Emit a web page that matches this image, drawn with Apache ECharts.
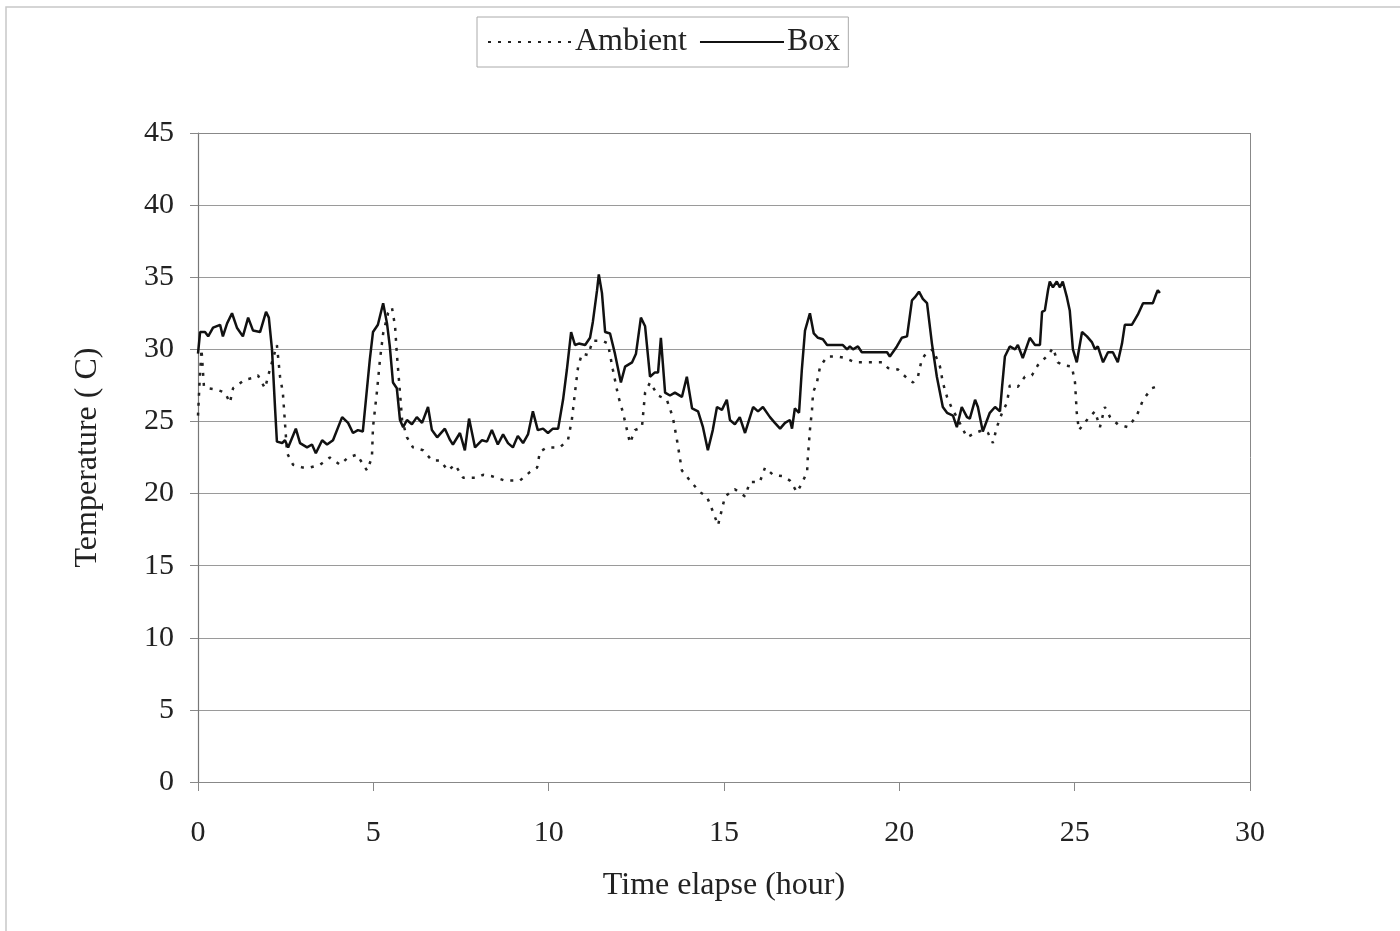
<!DOCTYPE html>
<html>
<head>
<meta charset="utf-8">
<title>Temperature</title>
<script src="https://cdn.jsdelivr.net/npm/echarts@6/dist/echarts.min.js"></script>
<style>
  html, body { margin: 0; padding: 0; background: #fff; }
  #chart { width: 1400px; height: 931px; }
</style>
</head>
<body>
<div id="chart"></div>
<script>
  // hours elapsed / temperature (C)
  var boxHours = [0.00, 0.06, 0.20, 0.29, 0.43, 0.63, 0.71, 0.83, 0.97, 1.11, 1.28, 1.43, 1.57, 1.77, 1.94, 2.02, 2.11, 2.20, 2.25, 2.40,
    2.48, 2.57, 2.79, 2.91, 3.11, 3.25, 3.36, 3.54, 3.68, 3.85, 4.11, 4.28, 4.42, 4.56, 4.70, 4.90, 4.99, 5.13, 5.28, 5.39,
    5.47, 5.56, 5.67, 5.76, 5.85, 5.96, 6.10, 6.24, 6.39, 6.56, 6.67, 6.82, 7.04, 7.19, 7.27, 7.47, 7.61, 7.73, 7.90, 8.10,
    8.24, 8.38, 8.55, 8.70, 8.84, 8.98, 9.12, 9.27, 9.41, 9.55, 9.69, 9.84, 9.98, 10.12, 10.27, 10.41, 10.52, 10.64, 10.75, 10.86,
    11.04, 11.18, 11.26, 11.38, 11.43, 11.52, 11.61, 11.75, 11.89, 12.06, 12.18, 12.38, 12.49, 12.63, 12.75, 12.89, 13.03, 13.12, 13.20, 13.32,
    13.46, 13.60, 13.80, 13.94, 14.09, 14.26, 14.40, 14.54, 14.68, 14.80, 14.94, 15.08, 15.17, 15.31, 15.45, 15.60, 15.83, 15.97, 16.11, 16.31,
    16.45, 16.60, 16.74, 16.88, 16.94, 17.02, 17.14, 17.22, 17.31, 17.45, 17.56, 17.68, 17.82, 17.94, 18.39, 18.51, 18.59, 18.68, 18.82, 18.93,
    19.65, 19.73, 19.93, 20.07, 20.22, 20.36, 20.44, 20.56, 20.67, 20.79, 20.93, 21.07, 21.24, 21.36, 21.53, 21.64, 21.78, 21.93, 22.01, 22.16,
    22.24, 22.38, 22.58, 22.73, 22.87, 22.93, 23.01, 23.15, 23.30, 23.38, 23.52, 23.72, 23.87, 24.01, 24.07, 24.15, 24.24, 24.29, 24.38, 24.49,
    24.58, 24.66, 24.78, 24.86, 24.95, 25.06, 25.21, 25.35, 25.49, 25.58, 25.66, 25.81, 25.95, 26.09, 26.23, 26.35, 26.43, 26.63, 26.80, 26.95,
    27.23, 27.32, 27.37, 27.43];
  var boxTemp = [29.7, 31.2, 31.2, 30.9, 31.5, 31.7, 30.9, 31.8, 32.5, 31.5, 30.9, 32.2, 31.3, 31.2, 32.6, 32.2, 30.0, 25.8, 23.6, 23.5,
    23.7, 23.2, 24.5, 23.5, 23.2, 23.4, 22.8, 23.7, 23.4, 23.7, 25.3, 24.9, 24.2, 24.4, 24.3, 29.3, 31.2, 31.7, 33.2, 31.8,
    30.2, 27.7, 27.3, 25.1, 24.6, 25.1, 24.8, 25.3, 24.9, 26.0, 24.4, 23.9, 24.5, 23.7, 23.4, 24.2, 23.0, 25.2, 23.2, 23.7,
    23.6, 24.4, 23.4, 24.1, 23.5, 23.2, 24.0, 23.5, 24.1, 25.7, 24.4, 24.5, 24.2, 24.5, 24.5, 26.5, 28.6, 31.2, 30.3, 30.4,
    30.3, 30.8, 31.9, 34.1, 35.2, 33.9, 31.2, 31.1, 29.7, 27.7, 28.8, 29.1, 29.7, 32.2, 31.6, 28.1, 28.4, 28.4, 30.8, 27.0,
    26.8, 27.0, 26.7, 28.1, 25.9, 25.7, 24.6, 23.0, 24.4, 26.0, 25.8, 26.5, 25.1, 24.8, 25.3, 24.2, 26.0, 25.7, 26.0, 25.3,
    24.9, 24.5, 24.9, 25.1, 24.5, 25.9, 25.6, 28.6, 31.3, 32.5, 31.1, 30.8, 30.7, 30.3, 30.3, 30.0, 30.2, 30.0, 30.2, 29.8,
    29.8, 29.5, 30.2, 30.8, 30.9, 33.4, 33.6, 34.0, 33.5, 33.2, 30.4, 28.1, 26.0, 25.6, 25.4, 24.6, 26.0, 25.3, 25.2, 26.5,
    26.0, 24.3, 25.6, 26.0, 25.7, 27.4, 29.5, 30.2, 30.0, 30.3, 29.4, 30.8, 30.3, 30.3, 32.6, 32.7, 34.1, 34.7, 34.3, 34.7,
    34.3, 34.7, 33.6, 32.7, 30.0, 29.1, 31.2, 30.9, 30.5, 30.0, 30.2, 29.1, 29.8, 29.8, 29.1, 30.4, 31.7, 31.7, 32.4, 33.2,
    33.2, 33.8, 34.1, 33.9];

  var ambHours = [0.00, 0.05, 0.10, 0.17, 0.29, 0.54, 0.77, 0.91, 1.00, 1.34, 1.54, 1.71, 1.91, 2.05, 2.25, 2.34, 2.42, 2.48, 2.54, 2.71,
    2.99, 3.19, 3.48, 3.76, 4.05, 4.28, 4.53, 4.82, 4.96, 4.99, 5.10, 5.19, 5.28, 5.42, 5.53, 5.62, 5.67, 5.76, 5.82, 5.96,
    6.13, 6.42, 6.67, 6.90, 7.13, 7.33, 7.56, 7.96, 8.13, 8.38, 8.75, 9.18, 9.47, 9.67, 9.75, 9.95, 10.32, 10.55, 10.66, 10.75,
    10.84, 10.95, 11.12, 11.26, 11.52, 11.69, 11.83, 11.98, 12.12, 12.32, 12.46, 12.66, 12.75, 12.89, 13.12, 13.37, 13.54, 13.66, 13.80, 14.03,
    14.31, 14.51, 14.66, 14.83, 14.94, 15.03, 15.31, 15.60, 15.74, 16.02, 16.17, 16.40, 16.68, 16.88, 17.08, 17.22, 17.37, 17.39, 17.45, 17.51,
    17.54, 17.65, 17.74, 17.94, 18.22, 18.45, 18.73, 19.22, 19.53, 19.68, 19.96, 20.22, 20.39, 20.53, 20.64, 20.79, 20.96, 21.16, 21.24, 21.36,
    21.50, 21.64, 21.93, 22.16, 22.38, 22.53, 22.67, 22.78, 22.93, 23.07, 23.15, 23.38, 23.58, 23.78, 23.95, 24.24, 24.38, 24.52, 24.66, 24.92,
    25.01, 25.06, 25.12, 25.29, 25.38, 25.58, 25.72, 25.86, 26.01, 26.23, 26.52, 26.77, 26.95, 27.20, 27.43];
  var ambTemp = [25.4, 28.0, 30.0, 27.4, 27.3, 27.2, 27.0, 26.3, 27.3, 27.9, 28.0, 28.2, 27.3, 28.6, 30.3, 28.1, 27.0, 24.9, 22.8, 22.0,
    21.8, 21.8, 22.0, 22.5, 22.0, 22.5, 22.7, 21.6, 22.5, 24.6, 27.0, 29.3, 31.1, 32.5, 32.9, 31.6, 29.7, 27.0, 25.1, 23.9,
    23.2, 23.0, 22.3, 22.3, 21.6, 22.0, 21.1, 21.1, 21.3, 21.2, 20.9, 20.9, 21.5, 21.8, 22.9, 23.2, 23.2, 23.7, 25.1, 27.0,
    28.8, 29.7, 29.6, 30.6, 30.6, 30.4, 28.6, 26.8, 25.6, 23.5, 24.4, 24.6, 27.0, 27.7, 26.8, 26.5, 25.3, 23.7, 21.6, 20.9,
    20.1, 19.8, 18.9, 17.8, 18.9, 19.8, 20.3, 19.8, 20.8, 20.8, 21.8, 21.3, 21.2, 20.9, 20.1, 20.7, 21.5, 22.5, 24.4, 25.8,
    27.0, 27.7, 28.8, 29.5, 29.5, 29.4, 29.1, 29.1, 29.1, 28.7, 28.6, 28.0, 27.7, 28.1, 29.3, 29.8, 30.0, 28.8, 27.7, 26.7,
    25.9, 25.3, 23.9, 24.2, 24.4, 24.2, 23.5, 24.6, 25.6, 26.3, 27.5, 27.4, 28.1, 28.2, 28.9, 29.6, 30.1, 29.1, 28.9, 28.8,
    27.7, 25.6, 24.4, 24.9, 25.2, 25.7, 24.6, 26.0, 25.3, 24.8, 24.6, 25.4, 26.5, 27.3, 27.5];

  function pairs(xs, ys) {
    var out = [];
    for (var i = 0; i < xs.length; i++) {
      out.push([xs[i], ys[i]]);
    }
    return out;
  }

  var font = 'Liberation Serif';
  var myChart = echarts.init(document.getElementById('chart'));

  myChart.setOption({
    animation: false,
    backgroundColor: '#fff',
    textStyle: { fontFamily: font },
    graphic: [{
      type: 'rect',
      shape: { x: 6, y: 7, width: 1420, height: 1000 },
      style: { fill: 'none', stroke: '#c8c8c8', lineWidth: 1.5 },
      silent: true
    }],
    legend: {
      left: 477,
      top: 17,
      padding: [9, 8, 9, 10],
      itemGap: 12,
      itemWidth: 84,
      itemHeight: 14,
      borderColor: '#aaa',
      borderWidth: 1,
      itemStyle: { color: 'rgba(0,0,0,0)', borderWidth: 0 },
      textStyle: { fontFamily: font, fontSize: 32, color: '#222', padding: [0, 0, 0, -2] },
      data: ['Ambient', 'Box']
    },
    grid: { left: 198, right: 150, top: 133, bottom: 149 },
    xAxis: {
      type: 'value',
      min: 0,
      max: 30,
      interval: 5,
      name: 'Time elapse (hour)',
      nameLocation: 'middle',
      nameGap: 88,
      nameTextStyle: { fontFamily: font, fontSize: 32, color: '#222' },
      axisLine: { show: true, lineStyle: { color: '#888', width: 1 } },
      axisTick: { show: true, inside: false, length: 9, lineStyle: { color: '#888' } },
      axisLabel: { fontFamily: font, fontSize: 30, color: '#222', margin: 36 },
      splitLine: { show: false }
    },
    yAxis: {
      type: 'value',
      min: 0,
      max: 45,
      interval: 5,
      name: 'Temperature ( C)',
      nameLocation: 'middle',
      nameGap: 94,
      nameTextStyle: { fontFamily: font, fontSize: 32, color: '#222' },
      axisLine: { show: true, lineStyle: { color: '#777', width: 1.2 } },
      axisTick: { show: true, length: 8, lineStyle: { color: '#888' } },
      axisLabel: { fontFamily: font, fontSize: 30, color: '#222', margin: 24 },
      splitLine: { show: true, lineStyle: { color: '#9a9a9a', width: 1 } }
    },
    series: [{
      name: 'Ambient',
      type: 'line',
      data: pairs(ambHours, ambTemp),
      showSymbol: false,
      symbol: 'none',
      itemStyle: { color: '#222' },
      lineStyle: { color: '#222', width: 2.5, type: [3, 7] }
    }, {
      name: 'Box',
      type: 'line',
      data: pairs(boxHours, boxTemp),
      showSymbol: false,
      symbol: 'none',
      itemStyle: { color: '#111' },
      lineStyle: { color: '#111', width: 2.5 }
    }, {
      // plot frame on top and right
      type: 'line',
      data: [],
      markLine: {
        silent: true,
        symbol: 'none',
        label: { show: false },
        lineStyle: { color: '#888', width: 1, type: 'solid' },
        data: [{ xAxis: 30 }, { yAxis: 45 }]
      }
    }]
  });
</script>
</body>
</html>
